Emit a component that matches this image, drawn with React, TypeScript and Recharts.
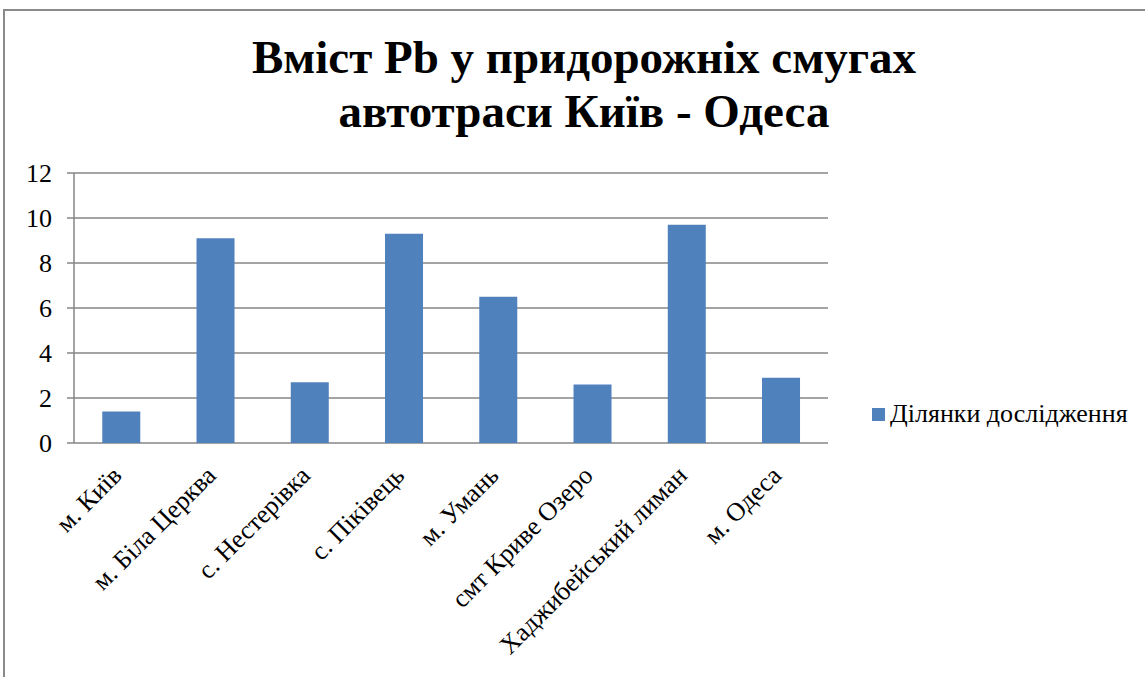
import React from "react";
import {
  BarChart,
  Bar,
  XAxis,
  YAxis,
  CartesianGrid,
  Legend,
} from "recharts";

const sites = [
  "м. Київ",
  "м. Біла Церква",
  "с. Нестерівка",
  "с. Піківець",
  "м. Умань",
  "смт Криве Озеро",
  "Хаджибейський лиман",
  "м. Одеса",
];
const pbValues = [1.4, 9.1, 2.7, 9.3, 6.5, 2.6, 9.7, 2.9];
const yTicks = [0, 2, 4, 6, 8, 10, 12];
const edgeTicks = [0, 1, 2, 3, 4, 5, 6, 7, 8];
const seriesName = "Ділянки дослідження";

const data = sites.map((site, i) => ({ site, value: pbValues[i] }));

const serif = '"Liberation Serif", "Times New Roman", serif';
const axisGray = "#868686";
const barBlue = "#4f81bd";

function SiteTick(props: any) {
  const { x, y, payload } = props;
  return (
    <g transform={`translate(${x + 2},${y + 26})`}>
      <text
        x={0}
        y={0}
        textAnchor="end"
        transform="rotate(-45)"
        fontFamily={serif}
        fontSize={26}
        fill="#000"
      >
        {payload.value}
      </text>
    </g>
  );
}

function LegendBox() {
  return (
    <div
      style={{
        display: "flex",
        alignItems: "center",
        fontFamily: serif,
        fontSize: 26,
        lineHeight: "30px",
        color: "#000",
        whiteSpace: "nowrap",
      }}
    >
      <span
        style={{
          display: "inline-block",
          width: 13,
          height: 13,
          background: barBlue,
          marginRight: 5,
        }}
      />
      {seriesName}
    </div>
  );
}

export default function App() {
  return (
    <div
      style={{
        position: "absolute",
        left: 0,
        top: 0,
        width: 1145,
        height: 677,
        background: "#fff",
        overflow: "hidden",
      }}
    >
      <div
        style={{
          position: "absolute",
          left: 3,
          top: 9,
          width: 1200,
          height: 700,
          borderTop: "2px solid #8a8a8a",
          borderLeft: "2px solid #8a8a8a",
        }}
      />
      <div
        style={{
          position: "absolute",
          left: 0,
          top: 30,
          width: 1168,
          textAlign: "center",
          fontFamily: serif,
          fontWeight: "bold",
          fontSize: 47,
          lineHeight: "54px",
          color: "#000",
        }}
      >
        Вміст Pb у придорожніх смугах
        <br />
        автотраси Київ - Одеса
      </div>
      <div style={{ position: "absolute", left: 0, top: 0 }}>
        <BarChart
          width={1145}
          height={677}
          data={data}
          margin={{ top: 173, right: 317, bottom: 34, left: 0 }}
          barCategoryGap="30%"
        >
          <CartesianGrid
            xAxisId="cat"
            vertical={false}
            stroke={axisGray}
            strokeWidth={1.5}
          />
          <XAxis
            xAxisId="edge"
            type="number"
            domain={[0, 8]}
            ticks={edgeTicks}
            tick={false}
            height={0}
            axisLine={{ stroke: axisGray, strokeWidth: 1.5 }}
            tickLine={{ stroke: axisGray, strokeWidth: 1.5 }}
            tickSize={7}
          />
          <XAxis
            xAxisId="cat"
            dataKey="site"
            interval={0}
            axisLine={false}
            tickLine={false}
            height={200}
            tick={<SiteTick />}
          />
          <YAxis
            width={74}
            domain={[0, 12]}
            ticks={yTicks}
            axisLine={{ stroke: axisGray, strokeWidth: 1.5 }}
            tickLine={{ stroke: axisGray, strokeWidth: 1.5 }}
            tickSize={7}
            tick={{ fontFamily: serif, fontSize: 26, fill: "#000" }}
            tickMargin={15}
          />
          <Legend
            verticalAlign="middle"
            layout="horizontal"
            content={() => <LegendBox />}
            wrapperStyle={{ position: "absolute", left: 872, top: 399, width: 273 }}
          />
          <Bar
            xAxisId="cat"
            dataKey="value"
            name={seriesName}
            fill={barBlue}
            isAnimationActive={false}
          />
        </BarChart>
      </div>
    </div>
  );
}
